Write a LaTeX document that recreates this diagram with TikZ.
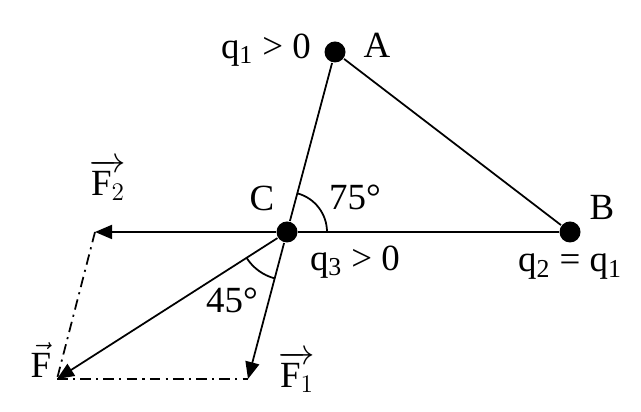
\documentclass[tikz,border=0pt]{standalone}
\usepackage{fontspec}
\setmainfont{Liberation Serif}
\usetikzlibrary{arrows.meta}
\begin{document}
\begin{tikzpicture}[line width=1pt,
        charge/.style={circle, fill, inner sep=0pt, minimum size=0.42cm},
        lbl/.style={font=\fontsize{21}{24}\selectfont, inner sep=1pt},
        force/.style={-{Triangle[length=0.34cm, width=0.28cm]}},
        helper/.style={dash pattern=on 6pt off 3pt on 1.2pt off 3pt}]
            \useasboundingbox (0, 0) rectangle (12.82, 8.24);

            \node[charge] (A) at (6.70, 7.20) {};
            \node[charge] (B) at (11.40, 3.60) {};
            \node[charge] (C) at (5.74, 3.60) {};
            \coordinate (f1) at (4.96, 0.66);
            \coordinate (f2) at (1.90, 3.60);
            \coordinate (f) at (1.14, 0.66);

            \draw (A) -- (C); \draw (A) -- (B); \draw (C) -- (B);
            \draw[force] (C) -- (f1); \draw[force] (C) -- (f2); \draw[force] (C) -- (f);
            \draw[helper] (f2) -- (f); \draw[helper] (f) -- (f1);

            \draw ([shift={(0:0.8)}]C.center) arc[start angle=0, end angle=75, radius=0.8];
            \draw ([shift={(212.6:0.96)}]C.center) arc[start angle=212.6, end angle=255, radius=0.96];

            \node[lbl] (qA) at (5.32, 7.24) {q\textsubscript{1} > 0}; \node[lbl] (nA) at (7.54, 7.34) {A};
            \node[lbl] (nB) at (12.04, 4.10) {B}; \node[lbl] (qB) at (11.40, 2.90) {q\textsubscript{2} = q\textsubscript{1}};
            \node[lbl] (nC) at (5.24, 4.28) {C}; \node[lbl] (qC) at (7.10, 3.00) {q\textsubscript{3} > 0};
            \node[lbl] (a75) at (7.10, 4.30) {75°}; \node[lbl] (a45) at (4.64, 2.24) {45°};
            \node[lbl] (nf2) at (2.16, 4.64) {$\overrightarrow{\mathrm{F}_{2}}$};
            \node[lbl] (nf) at (0.82, 1.04) {$\vec{\mathrm{F}}$};
            \node[lbl] (nf1) at (5.94, 0.80) {$\overrightarrow{\mathrm{F}_{1}}$};
        \end{tikzpicture}
\end{document}
